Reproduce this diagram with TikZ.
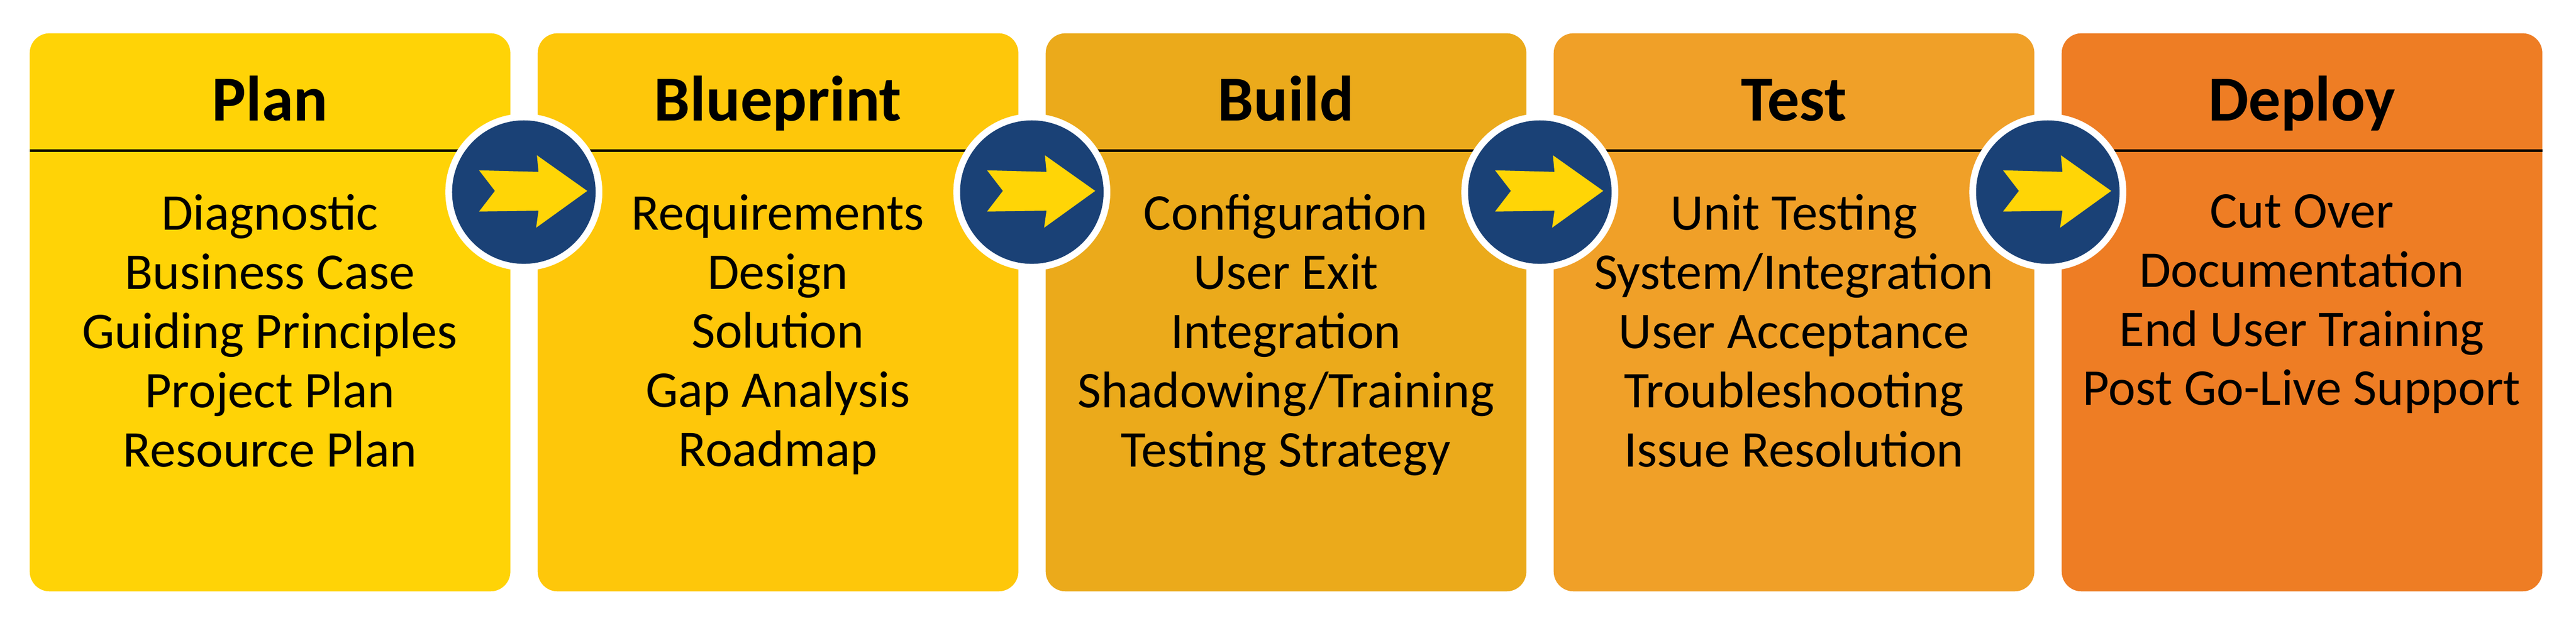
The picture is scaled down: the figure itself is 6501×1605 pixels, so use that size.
\documentclass[tikz,border=0pt]{standalone}
\usepackage{fontspec}
\setmainfont{Carlito}
\begin{document}
\begin{tikzpicture}[x=0.01cm,y=-0.01cm,
  phase/.style={rounded corners=0.5cm},
  head/.style={font=\bfseries\fontsize{46}{50}\selectfont, anchor=base},
  body/.style={font=\fontsize{37}{42.5}\selectfont, align=center, anchor=north},
  ring/.style={circle, fill=white, minimum size=3.96cm, inner sep=0},
  disc/.style={circle, fill=navy, minimum size=3.62cm, inner sep=0}]
\definecolor{navy}{HTML}{1A4176}
\definecolor{arrowy}{HTML}{FFD506}
\definecolor{c1}{HTML}{FFD306}
\definecolor{c2}{HTML}{FEC70A}
\definecolor{c3}{HTML}{EBAA1B}
\definecolor{c4}{HTML}{F0A028}
\definecolor{c5}{HTML}{EE7D24}
\useasboundingbox (0,0) rectangle (6501,1605);
\foreach \i/\c/\h/\b in {
 0/c1/Plan/{Diagnostic\\Business Case\\Guiding Principles\\Project Plan\\Resource Plan},
 1/c2/Blueprint/{Requirements\\Design\\Solution\\Gap Analysis\\Roadmap},
 2/c3/Build/{Configuration\\User Exit\\Integration\\Shadowing/Training\\Testing Strategy},
 3/c4/Test/{Unit Testing\\System/Integration\\User Acceptance\\Troubleshooting\\Issue Resolution},
 4/c5/Deploy/{Cut Over\\Documentation\\End User Training\\Post Go-Live Support}}{
  \pgfmathsetmacro{\xl}{75+1282*\i}
  \pgfmathsetmacro{\xr}{\xl+1213}
  \pgfmathsetmacro{\xm}{\xl+606}
  \fill[\c,phase] (\xl,84) rectangle (\xr,1493);
  \draw[line width=0.06cm] (\xl,380) -- (\xr,380);
  \node[head] (h\i) at (\xm,305) {\h};
  \node[body] (b\i) at (\xm,478) {\b};
}
\foreach \i in {0,1,2,3}{
  \pgfmathsetmacro{\cx}{1322+1282*\i}
  \node[ring] (r\i) at (\cx,485) {};
  \node[disc] (d\i) at (\cx,485) {};
  \fill[arrowy] ([shift={(-113,-55)}]d\i.center) -- ++(150,4) -- ++(-4,-42) -- ([shift={(160,-3)}]d\i.center)
    -- ([shift={(31,90)}]d\i.center) -- ([shift={(37,47)}]d\i.center) -- ([shift={(-113,49)}]d\i.center)
    -- ([shift={(-73,-3)}]d\i.center) -- cycle;
}
\end{tikzpicture}
\end{document}
